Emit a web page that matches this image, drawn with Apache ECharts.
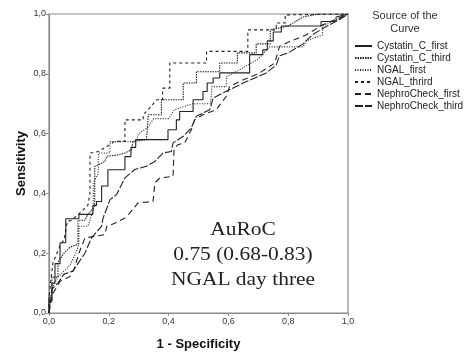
<!DOCTYPE html>
<html>
<head>
<meta charset="utf-8">
<script src="https://cdn.jsdelivr.net/npm/echarts@6/dist/echarts.min.js"></script>
<style>
  html, body { margin: 0; padding: 0; background: #fff; }
  #chart { width: 466px; height: 352px; }
</style>
</head>
<body>
<div id="chart"></div>
<script>
// curve names (legend order)
var curveNames = ['Cystatin_C_first', 'Cystatin_C_third', 'NGAL_first', 'NGAL_thrird', 'NephroCheck_first', 'NephroCheck_third'];

// tick labels (comma decimals, as in the original)
var tickLabels = ['0,0', '0,2', '0,4', '0,6', '0,8', '1,0'];

// [1 - specificity, sensitivity]
var cystatinFirst = [
    [0, 0], [0, 0.04], [0.01, 0.04], [0.01, 0.1], [0.02, 0.1], [0.02, 0.165], [0.037, 0.165],
    [0.037, 0.235], [0.056, 0.235], [0.056, 0.315], [0.1, 0.315], [0.1, 0.33], [0.147, 0.33],
    [0.147, 0.36], [0.159, 0.36], [0.159, 0.373], [0.176, 0.373], [0.176, 0.425], [0.197, 0.425],
    [0.197, 0.479], [0.254, 0.479], [0.254, 0.523], [0.274, 0.523], [0.274, 0.554], [0.29, 0.554],
    [0.29, 0.58], [0.398, 0.58], [0.398, 0.613], [0.426, 0.613], [0.426, 0.646], [0.437, 0.646],
    [0.437, 0.674], [0.482, 0.674], [0.482, 0.713], [0.515, 0.713], [0.515, 0.741], [0.529, 0.741],
    [0.529, 0.769], [0.549, 0.769], [0.549, 0.786], [0.571, 0.786], [0.571, 0.803], [0.671, 0.803],
    [0.671, 0.864], [0.715, 0.864], [0.715, 0.88], [0.73, 0.88], [0.73, 0.91], [0.75, 0.91],
    [0.75, 0.94], [0.777, 0.94], [0.777, 0.96], [0.91, 0.96], [0.91, 0.975], [0.96, 0.975],
    [0.96, 0.99], [1, 1]
];
var cystatinThird = [
    [0, 0], [0, 0.06], [0.01, 0.06], [0.01, 0.12], [0.03, 0.12], [0.03, 0.17], [0.05, 0.2],
    [0.07, 0.22], [0.097, 0.23], [0.097, 0.31], [0.12, 0.31], [0.13, 0.33], [0.153, 0.356],
    [0.153, 0.49], [0.187, 0.507], [0.193, 0.524], [0.232, 0.529], [0.254, 0.535], [0.276, 0.546],
    [0.281, 0.574], [0.326, 0.58], [0.331, 0.646], [0.332, 0.663], [0.376, 0.663], [0.376, 0.713],
    [0.449, 0.713], [0.449, 0.769], [0.493, 0.769], [0.493, 0.807], [0.571, 0.807], [0.571, 0.836],
    [0.63, 0.836], [0.63, 0.87], [0.693, 0.87], [0.693, 0.9], [0.74, 0.9], [0.74, 0.947],
    [0.8, 0.96], [0.85, 0.99], [0.9, 1], [1, 1]
];
var ngalFirst = [
    [0, 0], [0.005, 0.04], [0.013, 0.09], [0.03, 0.12], [0.05, 0.14], [0.07, 0.16], [0.09, 0.2],
    [0.1, 0.23], [0.1, 0.29], [0.13, 0.29], [0.148, 0.345], [0.148, 0.435], [0.165, 0.468],
    [0.165, 0.535], [0.204, 0.535], [0.204, 0.573], [0.29, 0.573], [0.3, 0.6], [0.33, 0.62],
    [0.35, 0.65], [0.4, 0.65], [0.42, 0.68], [0.48, 0.7], [0.54, 0.7], [0.545, 0.757],
    [0.593, 0.757], [0.593, 0.79], [0.65, 0.82], [0.7, 0.85], [0.738, 0.89], [0.85, 0.89],
    [0.86, 0.91], [0.915, 0.93], [0.915, 0.96], [0.96, 0.98], [1, 1]
];
var ngalThird = [
    [0, 0], [0, 0.05], [0.005, 0.1], [0.013, 0.167], [0.036, 0.223], [0.05, 0.245], [0.055, 0.268],
    [0.061, 0.306], [0.075, 0.31], [0.109, 0.34], [0.13, 0.36], [0.137, 0.4], [0.137, 0.535],
    [0.165, 0.54], [0.193, 0.557], [0.22, 0.574], [0.254, 0.574], [0.254, 0.646], [0.315, 0.646],
    [0.315, 0.663], [0.337, 0.686], [0.36, 0.713], [0.38, 0.713], [0.38, 0.752], [0.404, 0.752],
    [0.404, 0.836], [0.527, 0.836], [0.527, 0.875], [0.665, 0.875], [0.665, 0.947], [0.76, 0.947],
    [0.76, 0.97], [0.79, 0.97], [0.79, 0.997], [1, 1]
];
var nephroFirst = [
    [0, 0], [0.005, 0.03], [0.014, 0.067], [0.037, 0.106], [0.07, 0.122], [0.085, 0.15], [0.1, 0.2],
    [0.12, 0.251], [0.187, 0.262], [0.193, 0.29], [0.22, 0.3], [0.254, 0.318], [0.27, 0.334],
    [0.298, 0.368], [0.348, 0.373], [0.354, 0.435], [0.371, 0.452], [0.415, 0.457], [0.418, 0.546],
    [0.431, 0.563], [0.454, 0.569], [0.476, 0.613], [0.487, 0.646], [0.515, 0.663], [0.56, 0.68],
    [0.571, 0.696], [0.593, 0.724], [0.604, 0.758], [0.65, 0.78], [0.7, 0.8], [0.755, 0.836],
    [0.771, 0.892], [0.805, 0.908], [0.86, 0.93], [0.916, 0.964], [0.994, 0.997], [1, 1]
];
var nephroThird = [
    [0, 0], [0.005, 0.04], [0.01, 0.08], [0.03, 0.1], [0.05, 0.13], [0.08, 0.14], [0.1, 0.17],
    [0.12, 0.2], [0.142, 0.251], [0.176, 0.29], [0.181, 0.318], [0.204, 0.379], [0.226, 0.396],
    [0.254, 0.452], [0.287, 0.48], [0.326, 0.491], [0.354, 0.507], [0.381, 0.535], [0.409, 0.54],
    [0.415, 0.569], [0.449, 0.591], [0.476, 0.619], [0.487, 0.646], [0.493, 0.658], [0.538, 0.68],
    [0.549, 0.719], [0.582, 0.736], [0.649, 0.769], [0.727, 0.803], [0.76, 0.83], [0.771, 0.86],
    [0.8, 0.87], [0.85, 0.9], [0.88, 0.93], [0.93, 0.96], [0.97, 0.98], [1, 1]
];

var curves = [cystatinFirst, cystatinThird, ngalFirst, ngalThird, nephroFirst, nephroThird];
var dashes = ['solid', [1.5, 1], [1, 1.5], [3, 3], [6, 4], [8, 2]];

var dom = document.getElementById('chart');
var myChart = echarts.init(dom, null, { renderer: 'canvas' });

var axisColor = '#8a8a8a';
var font = '"Liberation Sans", Arial, sans-serif';

var series = curveNames.map(function (name, i) {
    return {
        name: name,
        type: 'line',
        data: curves[i],
        symbol: 'none',
        color: '#222',
        itemStyle: { color: '#222' },
        lineStyle: { color: '#222', width: 1.1, type: dashes[i] }
    };
});

var option = {
    backgroundColor: '#fff',
    animation: false,
    grid: {
        left: 49, right: 118, top: 14, bottom: 39,
        outerBoundsMode: 'none',
        show: true, borderColor: axisColor, borderWidth: 1.2, backgroundColor: '#fff'
    },
    xAxis: {
        type: 'value', min: 0, max: 1, interval: 0.2,
        name: '1 - Specificity', nameLocation: 'middle', nameGap: 25,
        nameTextStyle: { fontFamily: font, fontWeight: 'bold', fontSize: 13, color: '#111' },
        axisLine: { show: true, lineStyle: { color: axisColor, width: 1.2 } },
        axisTick: { show: true, length: 3, lineStyle: { color: axisColor } },
        axisLabel: {
            margin: 4, fontFamily: font, fontSize: 9, color: '#333',
            formatter: function (v) { return tickLabels[Math.round(v / 0.2)]; }
        },
        splitLine: { show: false }
    },
    yAxis: {
        type: 'value', min: 0, max: 1, interval: 0.2,
        name: 'Sensitivity', nameLocation: 'middle', nameGap: 21,
        nameMoveOverlap: false,
        nameTextStyle: { fontFamily: font, fontWeight: 'bold', fontSize: 13, color: '#111' },
        axisLine: { show: true, lineStyle: { color: axisColor, width: 1.2 } },
        axisTick: { show: true, length: 3, lineStyle: { color: axisColor } },
        axisLabel: {
            margin: 3, fontFamily: font, fontSize: 9, color: '#333',
            formatter: function (v) { return tickLabels[Math.round(v / 0.2)]; }
        },
        splitLine: { show: false }
    },
    legend: {
        orient: 'vertical', left: 354, top: 41, padding: 0,
        itemWidth: 17, itemHeight: 10, itemGap: 2,
        icon: 'inherit',
        itemStyle: { opacity: 0 },
        textStyle: { fontFamily: font, fontSize: 10, color: '#222' },
        data: curveNames
    },
    graphic: [
        {
            type: 'text',
            style: {
                text: 'Source of the\nCurve', x: 405, y: 9, textAlign: 'center',
                font: '11px ' + font, fill: '#333', lineHeight: 13
            }
        },
        {
            type: 'text',
            x: 243, y: 217, scaleX: 1.1,
            style: {
                text: 'AuRoC\n0.75 (0.68-0.83)\nNGAL day three', x: 0, y: 0, textAlign: 'center',
                font: '19.5px "Liberation Serif", "Times New Roman", serif', fill: '#222', lineHeight: 25
            }
        }
    ],
    series: series
};

myChart.setOption(option);
window.addEventListener('resize', myChart.resize);
</script>
</body>
</html>
